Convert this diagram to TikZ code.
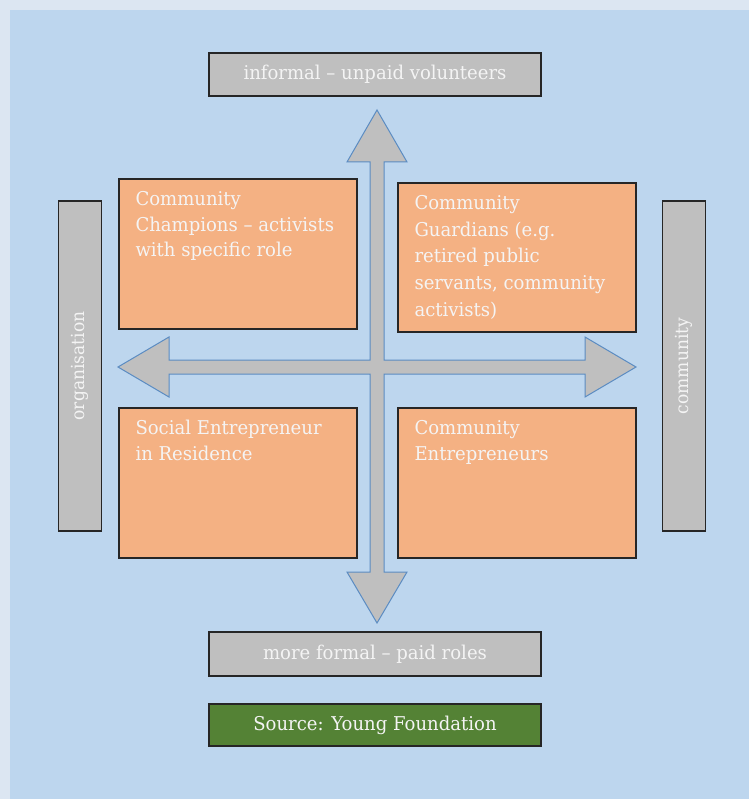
\documentclass[tikz,border=0pt]{standalone}
\usepackage{fontspec}
\setmainfont{DejaVu Serif}[FakeStretch=0.95]
\definecolor{outerbg}{HTML}{DCE6F2}
\definecolor{panelbg}{HTML}{BDD6EE}
\definecolor{boxgray}{HTML}{BFBFBF}
\definecolor{quadfill}{HTML}{F4B183}
\definecolor{srcgreen}{HTML}{548235}
\definecolor{framecol}{HTML}{262626}
\definecolor{arrowline}{HTML}{5B8CC2}
\definecolor{lighttext}{HTML}{F4F4F4}
\tikzset{
  framed/.style={draw=framecol, line width=1.4pt, inner sep=0pt},
  axisbox/.style={framed, fill=boxgray, text=lighttext, minimum width=332pt,
    font=\fontsize{19}{22}\selectfont},
  sidebar/.style={framed, fill=boxgray, minimum width=43.4pt, minimum height=330pt},
  sidetext/.style={text=lighttext, rotate=90, inner sep=0pt,
    font=\fontsize{18}{20}\selectfont},
  quad/.style={framed, fill=quadfill, minimum width=238pt},
  quadtext/.style={text=lighttext, anchor=north west, align=left, inner sep=0pt,
    font=\fontsize{19}{25.5}\selectfont},
  crossarrow/.style={fill=boxgray, draw=arrowline, line width=1pt, line join=miter}
}
\begin{document}
\begin{tikzpicture}[x=1pt, y=-1pt]
\useasboundingbox (0,0) rectangle (749,799);
\fill[outerbg] (0,0) rectangle (749,799);
\fill[panelbg] (10,10) rectangle (749,799);

% double-headed cross of arrows
\draw[crossarrow]
  (377,110) -- (407,162) -- (384,162) -- (384,360) -- (585,360) -- (585,337)
  -- (636,367) -- (585,397) -- (585,374) -- (384,374) -- (384,572) -- (407,572)
  -- (377,623) -- (347,572) -- (370,572) -- (370,374) -- (169,374) -- (169,397)
  -- (118,367) -- (169,337) -- (169,360) -- (370,360) -- (370,162) -- (347,162)
  -- cycle;

% axis labels
\node[axisbox, minimum height=43pt] (informal) at (375,74.5) {informal – unpaid volunteers};
\node[axisbox, minimum height=44pt] (formal) at (375,654) {more formal – paid roles};
\node[axisbox, minimum height=42pt, fill=srcgreen] (source) at (375,725) {Source: Young Foundation};

\node[sidebar] (orgbar) at (80,366) {};
\node[sidetext] (orglabel) at (orgbar.center) {organisation};
\node[sidebar] (combar) at (684,366) {};
\node[sidetext] (comlabel) at (combar.center) {community};

% quadrants
\node[quad, minimum height=150pt] (tl) at (238,254) {};
\node[quad, minimum height=149pt] (tr) at (517,257.5) {};
\node[quad, minimum height=150pt] (bl) at (238,483) {};
\node[quad, minimum height=150pt] (br) at (517,483) {};

\node[quadtext] (tltext) at ([xshift=17pt, yshift=-13pt]tl.north west)
  {Community\\Champions – activists\\with specific role};
\node[quadtext, font=\fontsize{19}{26.6}\selectfont] (trtext)
  at ([xshift=17pt, yshift=-13pt]tr.north west)
  {Community\\Guardians (e.g.\\retired public\\servants, community\\activists)};
\node[quadtext] (bltext) at ([xshift=17pt, yshift=-13pt]bl.north west)
  {Social Entrepreneur\\in Residence};
\node[quadtext] (brtext) at ([xshift=17pt, yshift=-13pt]br.north west)
  {Community\\Entrepreneurs};
\end{tikzpicture}
\end{document}
